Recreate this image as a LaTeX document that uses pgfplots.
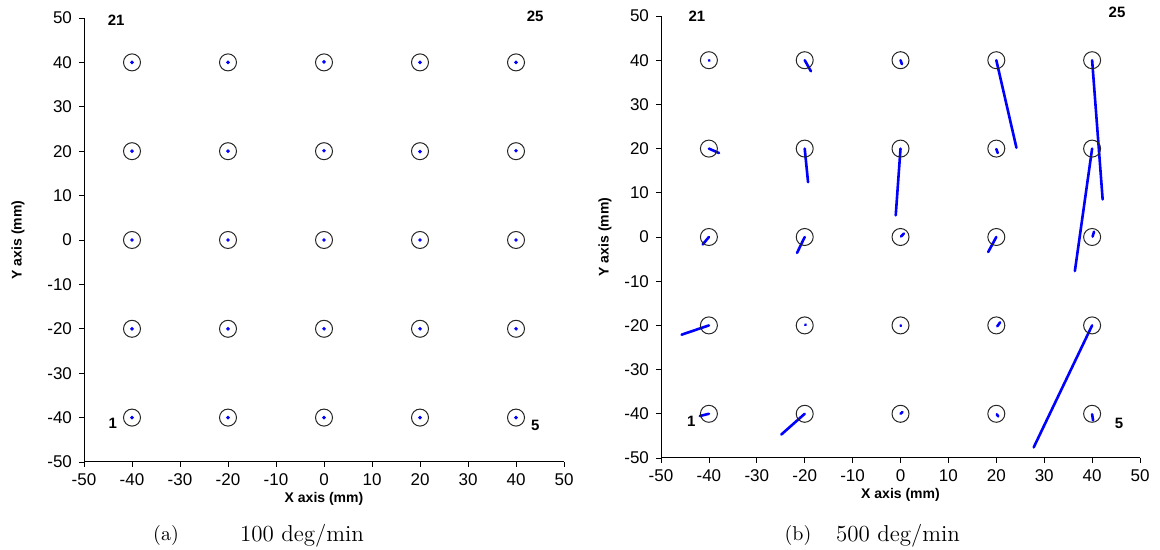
\documentclass[border=0pt]{standalone}
\usepackage{fontspec}
\usepackage{pgfplots}
\pgfplotsset{compat=1.18}
\newfontfamily\arial{Liberation Sans}
\tikzset{pl/.style={font=\arial\bfseries\fontsize{7.5}{8}\selectfont}}
\pgfplotsset{
  grid axis/.style={
    scale only axis,
    xmin=-50, xmax=50, ymin=-50, ymax=50,
    axis x line=bottom, axis y line=left,
    axis line style={-, black, line width=0.5pt},
    tick align=outside,
    major tick length=2.5pt,
    tick style={black, line width=0.4pt},
    xtick={-50,-40,...,50}, ytick={-50,-40,...,50},
    minor tick num=0,
    /pgf/number format/assume math mode=true,
    tick label style={font=\arial\fontsize{8.5}{9}\selectfont},
    clip=false,
    xlabel={X axis (mm)}, ylabel={Y axis (mm)},
    every axis x label/.style={at={(axis description cs:0.5,-0.083)}, anchor=center, font=\arial\bfseries\fontsize{7}{8}\selectfont},
    every axis y label/.style={at={(axis description cs:-0.1375,0.5)}, rotate=90, anchor=center, font=\arial\bfseries\fontsize{7}{8}\selectfont},
  },
  ring/.style={only marks, mark=o, mark size=4.25pt, mark options={black!85, line width=0.5pt}},
  seg/.style={blue, line width=1.3pt, line cap=round, mark=none},
}
\begin{document}
\begin{tikzpicture}
\useasboundingbox (0,0) rectangle (580pt,275pt);
% ---------- panel (a) ----------
\begin{axis}[grid axis, at={(42pt,44pt)}, anchor=south west, width=240pt, height=222pt]
\addplot[ring] coordinates {
(-40,40)(-20,40)(0,40)(20,40)(40,40)
(-40,20)(-20,20)(0,20)(20,20)(40,20)
(-40,0)(-20,0)(0,0)(20,0)(40,0)
(-40,-20)(-20,-20)(0,-20)(20,-20)(40,-20)
(-40,-40)(-20,-40)(0,-40)(20,-40)(40,-40)};
\addplot[only marks, mark=*, mark size=0.7pt, blue] coordinates {
(-40,40)(-20,40)(0,40.1)(20,40)(40,40)
(-40,20)(-20,20)(0,20.1)(20,19.9)(40,20.1)
(-40,0)(-20,0)(0,0)(20,0)(40,0)
(-40,-20)(-20,-20)(0,-20)(20,-20)(40,-20)
(-40,-40)(-20,-40)(0,-40)(20,-40)(40,-40)};
\node[pl] at (axis cs:-43.3,49.5) {21};
\node[pl] at (axis cs:44.0,50.4) {25};
\node[pl] at (axis cs:-44.0,-41.2) {1};
\node[pl] at (axis cs:44.0,-41.7) {5};
\end{axis}
% ---------- panel (b) ----------
\begin{axis}[grid axis, at={(330.5pt,46pt)}, anchor=south west, width=239.5pt, height=221pt,
  every axis y label/.style={at={(axis description cs:-0.117,0.5)}, rotate=90, anchor=center, font=\arial\bfseries\fontsize{7}{8}\selectfont}]
\addplot[ring] coordinates {
(-40,40)(-20,40)(0,40)(20,40)(40,40)
(-40,20)(-20,20)(0,20)(20,20)(40,20)
(-40,0)(-20,0)(0,0)(20,0)(40,0)
(-40,-20)(-20,-20)(0,-20)(20,-20)(40,-20)
(-40,-40)(-20,-40)(0,-40)(20,-40)(40,-40)};
% row 40
\addplot[seg] coordinates {(-40,40)(-39.9,39.9)};
\addplot[seg] coordinates {(-20,40)(-18.7,37.5)};
\addplot[seg] coordinates {(0,40)(0.3,39.1)};
\addplot[seg] coordinates {(20,40)(24.2,20.2)};
\addplot[seg] coordinates {(40,40)(42.2,8.5)};
% row 20
\addplot[seg] coordinates {(-40,20)(-37.9,19.0)};
\addplot[seg] coordinates {(-20,20)(-19.3,12.4)};
\addplot[seg] coordinates {(0,20)(-1.0,4.9)};
\addplot[seg] coordinates {(20,19.9)(20.3,19.0)};
\addplot[seg] coordinates {(40,20)(36.4,-7.7)};
% row 0
\addplot[seg] coordinates {(-40,0)(-41.3,-1.7)};
\addplot[seg] coordinates {(-20,0)(-21.6,-3.6)};
\addplot[seg] coordinates {(0.1,0.1)(0.7,0.8)};
\addplot[seg] coordinates {(20,0)(18.3,-3.4)};
\addplot[seg] coordinates {(40.1,0.1)(40.4,1.2)};
% row -20
\addplot[seg] coordinates {(-40,-20)(-45.7,-22.1)};
\addplot[seg] coordinates {(-19.9,-19.9)(-19.8,-19.8)};
\addplot[seg] coordinates {(0,-20)(0.1,-20.1)};
\addplot[seg] coordinates {(20.2,-20.2)(20.8,-19.3)};
\addplot[seg] coordinates {(40,-20)(27.8,-47.6)};
% row -40
\addplot[seg] coordinates {(-40,-40)(-41.9,-40.5)};
\addplot[seg] coordinates {(-20,-40)(-24.9,-44.7)};
\addplot[seg] coordinates {(0,-40)(0.4,-39.6)};
\addplot[seg] coordinates {(20.1,-40.1)(20.4,-40.6)};
\addplot[seg] coordinates {(40,-40.1)(40.2,-41.5)};
\node[pl] at (axis cs:-42.5,50) {21};
\node[pl] at (axis cs:45.2,50.9) {25};
\node[pl] at (axis cs:-43.7,-41.6) {1};
\node[pl] at (axis cs:45.6,-42.1) {5};
\end{axis}
% captions
\node[font=\fontsize{10}{12}\selectfont] at (83pt,7pt) {(a)};
\node[font=\fontsize{11.5}{13}\selectfont] at (151pt,7pt) {100 deg/min};
\node[font=\fontsize{10}{12}\selectfont] at (399pt,7pt) {(b)};
\node[font=\fontsize{11.5}{13}\selectfont] at (449pt,7pt) {500 deg/min};
\end{tikzpicture}
\end{document}
